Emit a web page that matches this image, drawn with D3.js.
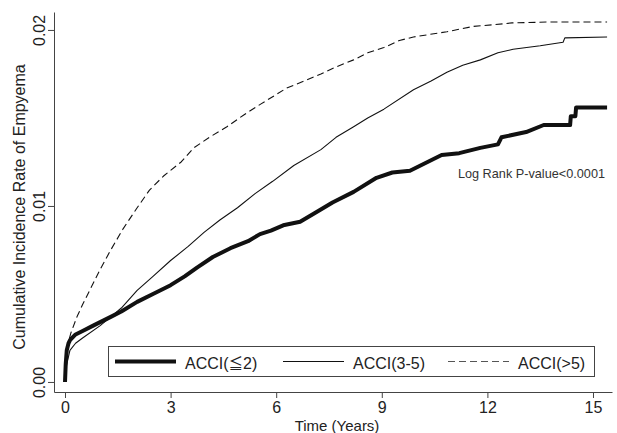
<!DOCTYPE html>
<html>
<head>
<meta charset="utf-8">
<script src="https://cdn.jsdelivr.net/npm/d3@7"></script>
<style>
	body { margin: 0; background: #fff; }
	svg { display: block; font-family: "Liberation Sans", Arial, sans-serif; }
</style>
</head>
<body>
<div id="chart"></div>
<script>
'use strict';

// time (years) and cumulative incidence
var lowTime = [0, 0.02, 0.05, 0.1, 0.15, 0.3, 0.5, 0.8, 1.0, 1.3, 1.6, 2.05, 2.5, 3.0, 3.4, 3.75, 4.2, 4.7, 5.2, 5.54, 5.85, 6.2, 6.68, 7.1, 7.6, 8.2, 8.85, 9.3, 9.8, 10.3, 10.7, 11.2, 11.8, 12.3, 12.4, 13.1, 13.6, 14.35, 14.37, 14.5, 14.52, 15.4];
var lowRate = [0, 0.0010, 0.0018, 0.0022, 0.0024, 0.0027, 0.0029, 0.0032, 0.0034, 0.0037, 0.0040, 0.00455, 0.0050, 0.0055, 0.0060, 0.0065, 0.0071, 0.0076, 0.0080, 0.0084, 0.0086, 0.0089, 0.0091, 0.0096, 0.0102, 0.0108, 0.0116, 0.0119, 0.0120, 0.0125, 0.0129, 0.0130, 0.0133, 0.0135, 0.0139, 0.0142, 0.0146, 0.0146, 0.0151, 0.0151, 0.0156, 0.0156];

var midTime = [0, 0.03, 0.06, 0.14, 0.3, 0.5, 1.0, 1.3, 1.6, 2.05, 2.5, 3.0, 3.5, 3.95, 4.4, 4.9, 5.4, 5.9, 6.5, 7.27, 7.7, 8.2, 8.6, 9.06, 9.9, 10.4, 10.85, 11.3, 11.8, 12.3, 12.73, 13.5, 14.15, 14.2, 15.4];
var midRate = [0, 0.0008, 0.0011, 0.0018, 0.0022, 0.0025, 0.0032, 0.0037, 0.0042, 0.0052, 0.0060, 0.0069, 0.0077, 0.0085, 0.0092, 0.0099, 0.0107, 0.0114, 0.0123, 0.0132, 0.0139, 0.0145, 0.0150, 0.0155, 0.0166, 0.0171, 0.0176, 0.0180, 0.0183, 0.0187, 0.0189, 0.0191, 0.0193, 0.01955, 0.0196];

var highTime = [0, 0.05, 0.1, 0.17, 0.34, 0.5, 0.7, 1.0, 1.3, 1.65, 2.05, 2.4, 2.8, 3.3, 3.66, 4.1, 4.6, 5.1, 5.57, 6.3, 6.8, 7.27, 7.7, 8.2, 8.6, 9.06, 9.5, 9.9, 10.85, 11.6, 12.2, 12.7, 13.7, 15.4];
var highRate = [0, 0.0018, 0.0023, 0.0028, 0.0037, 0.0044, 0.0052, 0.0064, 0.0075, 0.0087, 0.0099, 0.0109, 0.0117, 0.0125, 0.0133, 0.0139, 0.0145, 0.0152, 0.0158, 0.0167, 0.0171, 0.0175, 0.0179, 0.0183, 0.0187, 0.0190, 0.0194, 0.0196, 0.0199, 0.0202, 0.0203, 0.0204, 0.02045, 0.02045];

// legend labels split as [before, symbol, after] so the symbol can use a CJK font
var seriesNames = [['ACCI(', '\u2266', '2)'], ['ACCI(3-5)', '', ''], ['ACCI(>5)', '', '']];
var xTicks = [0, 3, 6, 9, 12, 15];
var yTicks = [0, 0.01, 0.02];
var pValueText = 'Log Rank P-value<0.0001';

var draw = function(svg, width, height) {
	svg.attr('width', width).attr('height', height);

	// scales stretched so the axis lines run past the first/last tick
	var xScale = d3.scaleLinear().domain([-0.3125, 15.54]).range([54, 612]);
	var yScale = d3.scaleLinear().domain([-0.00057, 0.02102]).range([392, 12]);

	// x axis
	var xAxis = svg.append('g')
		.attr('transform', 'translate(0,392)')
		.call(d3.axisBottom(xScale).tickValues(xTicks).tickSize(6).tickSizeOuter(0));
	xAxis.selectAll('text')
		.attr('y', 21).attr('dy', null)
		.attr('font-size', 16).attr('fill', '#222');

	// y axis, labels turned on their side
	var yAxis = svg.append('g')
		.attr('transform', 'translate(54,0)')
		.call(d3.axisLeft(yScale).tickValues(yTicks).tickFormat(d3.format('.2f')).tickSize(6).tickSizeOuter(0));
	yAxis.selectAll('text')
		.attr('x', null).attr('dy', null)
		.attr('text-anchor', 'middle')
		.attr('transform', 'translate(-9,0) rotate(-90)')
		.attr('font-size', 16).attr('fill', '#222');
	svg.selectAll('.domain, .tick line').attr('stroke', '#444');

	svg.append('text')
		.attr('transform', 'translate(25,207) rotate(-90)')
		.attr('text-anchor', 'middle')
		.attr('font-size', 16).attr('fill', '#222')
		.text('Cumulative Incidence Rate of Empyema');
	svg.append('text')
		.attr('x', 337).attr('y', 430.5)
		.attr('text-anchor', 'middle')
		.attr('font-size', 15).attr('fill', '#222')
		.text('Time (Years)');

	// curves
	var line = d3.line()
		.x(function(d) { return xScale(d[0]); })
		.y(function(d) { return yScale(d[1]); });
	var styles = [
		{ width: 4, dash: null },
		{ width: 1.1, dash: null },
		{ width: 1.1, dash: '7,4' }
	];
	var series = [d3.zip(lowTime, lowRate), d3.zip(midTime, midRate), d3.zip(highTime, highRate)];
	svg.append('g').selectAll('path')
		.data(series)
		.join('path')
		.attr('d', line)
		.attr('fill', 'none')
		.attr('stroke', '#111')
		.attr('stroke-linejoin', 'round')
		.attr('stroke-width', function(d, i) { return styles[i].width; })
		.attr('stroke-dasharray', function(d, i) { return styles[i].dash; });

	svg.append('text')
		.attr('x', 605).attr('y', 178)
		.attr('text-anchor', 'end')
		.attr('font-size', 12.7).attr('fill', '#333')
		.text(pValueText);

	// legend box
	var legend = svg.append('g');
	legend.append('rect')
		.attr('x', 108.5).attr('y', 346.5)
		.attr('width', 486).attr('height', 30)
		.attr('fill', '#fff').attr('stroke', '#444');
	var legendX = [115, 283, 448];
	seriesNames.forEach(function(name, i) {
		legend.append('line')
			.attr('x1', legendX[i]).attr('x2', legendX[i] + 61)
			.attr('y1', 361.5).attr('y2', 361.5)
			.attr('stroke', i === 2 ? '#555' : '#111')
			.attr('stroke-width', styles[i].width)
			.attr('stroke-dasharray', styles[i].dash);
		var label = legend.append('text')
			.attr('x', legendX[i] + 70).attr('y', 368.5)
			.attr('font-size', 16).attr('fill', '#222');
		label.append('tspan').text(name[0]);
		if (name[1]) {
			label.append('tspan')
				.attr('font-family', '"Noto Sans CJK JP", "Noto Sans CJK SC", sans-serif')
				.attr('font-size', 14.5)
				.text(name[1]);
			label.append('tspan').text(name[2]);
		}
	});
};

draw(d3.select('#chart').append('svg'), 617, 433);
</script>
</body>
</html>
